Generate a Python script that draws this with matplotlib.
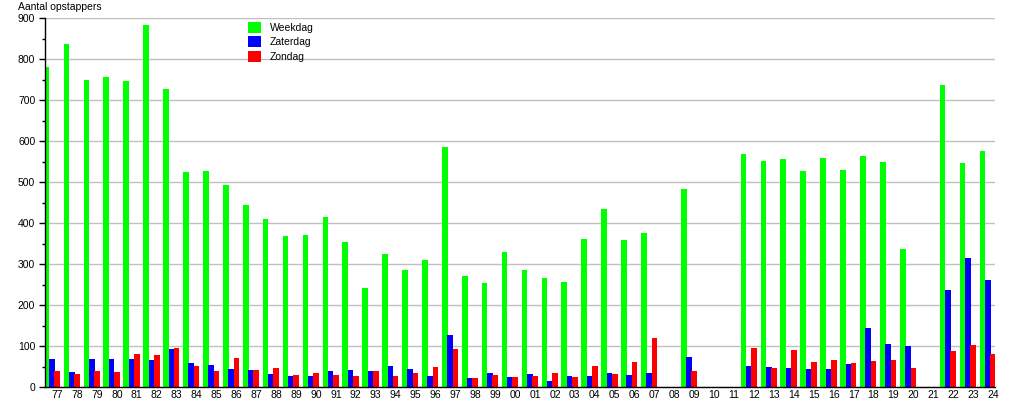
import matplotlib
matplotlib.use("Agg")
import matplotlib.pyplot as plt
import numpy as np

plt.rcParams["font.family"] = ["Liberation Sans", "DejaVu Sans"]

# Years 1977 .. 2024, labelled with two digits
years = ["77", "78", "79", "80", "81", "82", "83", "84", "85", "86", "87", "88",
         "89", "90", "91", "92", "93", "94", "95", "96", "97", "98", "99", "00",
         "01", "02", "03", "04", "05", "06", "07", "08", "09", "10", "11", "12",
         "13", "14", "15", "16", "17", "18", "19", "20", "21", "22", "23", "24"]

weekdag = [780, 836, 750, 757, 746, 884, 728, 524, 526, 493, 444, 410,
           368, 371, 414, 354, 242, 324, 285, 310, 585, 271, 254, 329,
           285, 266, 256, 361, 434, 358, 375, 0, 483, 0, 0, 568,
           551, 556, 526, 558, 529, 563, 548, 337, 0, 736, 546, 575]

zaterdag = [69, 37, 69, 69, 69, 67, 93, 59, 54, 45, 42, 32,
            28, 28, 40, 42, 40, 52, 45, 28, 127, 23, 35, 25,
            32, 15, 28, 28, 35, 30, 35, 0, 74, 0, 0, 52,
            49, 47, 45, 45, 57, 144, 105, 101, 0, 237, 315, 261]

zondag = [40, 32, 40, 37, 81, 79, 96, 52, 40, 71, 42, 47,
          30, 35, 30, 28, 40, 28, 35, 49, 93, 23, 30, 25,
          28, 35, 25, 52, 32, 62, 120, 0, 40, 0, 0, 96,
          47, 91, 62, 67, 59, 64, 67, 47, 0, 88, 103, 81]

W, H = 1015, 400
fig = plt.figure(figsize=(W / 100, H / 100), dpi=100)
ax = fig.add_axes([45 / W, 13 / H, 950 / W, 369 / H])

x = np.arange(len(years))
bw = 0.265
ax.bar(x - 2 * bw, weekdag, width=bw + 0.02, color="#00ff00", label="Weekdag", zorder=2)
ax.bar(x - bw, zaterdag, width=bw + 0.02, color="#0000ff", label="Zaterdag", zorder=2)
ax.bar(x, zondag, width=bw + 0.02, color="#ff0000", label="Zondag", zorder=2)

ax.set_xlim(-0.61, 47.1)
ax.set_ylim(0, 900)
ax.set_yticks(np.arange(0, 901, 100))
ax.set_yticks(np.arange(50, 900, 100), minor=True)
ax.set_xticks(x)
ax.set_xticklabels(years)

ax.grid(axis="y", color="#c0c0c0", linewidth=1.0, zorder=0)
ax.set_axisbelow(True)
for side in ("top", "right"):
    ax.spines[side].set_visible(False)
ax.spines["left"].set_linewidth(1.0)
ax.spines["bottom"].set_linewidth(1.0)

ax.tick_params(axis="y", which="major", length=4, width=1, labelsize=7.5, pad=3)
ax.tick_params(axis="y", which="minor", length=2, width=1)
ax.tick_params(axis="x", length=0, labelsize=7.5, pad=2)

fig.text(18 / W, 1 - 2 / H, "Aantal opstappers", ha="left", va="top", fontsize=7.5)

ax.legend(loc="upper left", bbox_to_anchor=(248 / W, 1 - 22 / H),
          bbox_transform=fig.transFigure, frameon=False, fontsize=7.5,
          handlelength=1.25, handleheight=1.25, handletextpad=0.85,
          labelspacing=0.33, borderpad=0, borderaxespad=0)

fig.savefig("out.png", dpi=100)
